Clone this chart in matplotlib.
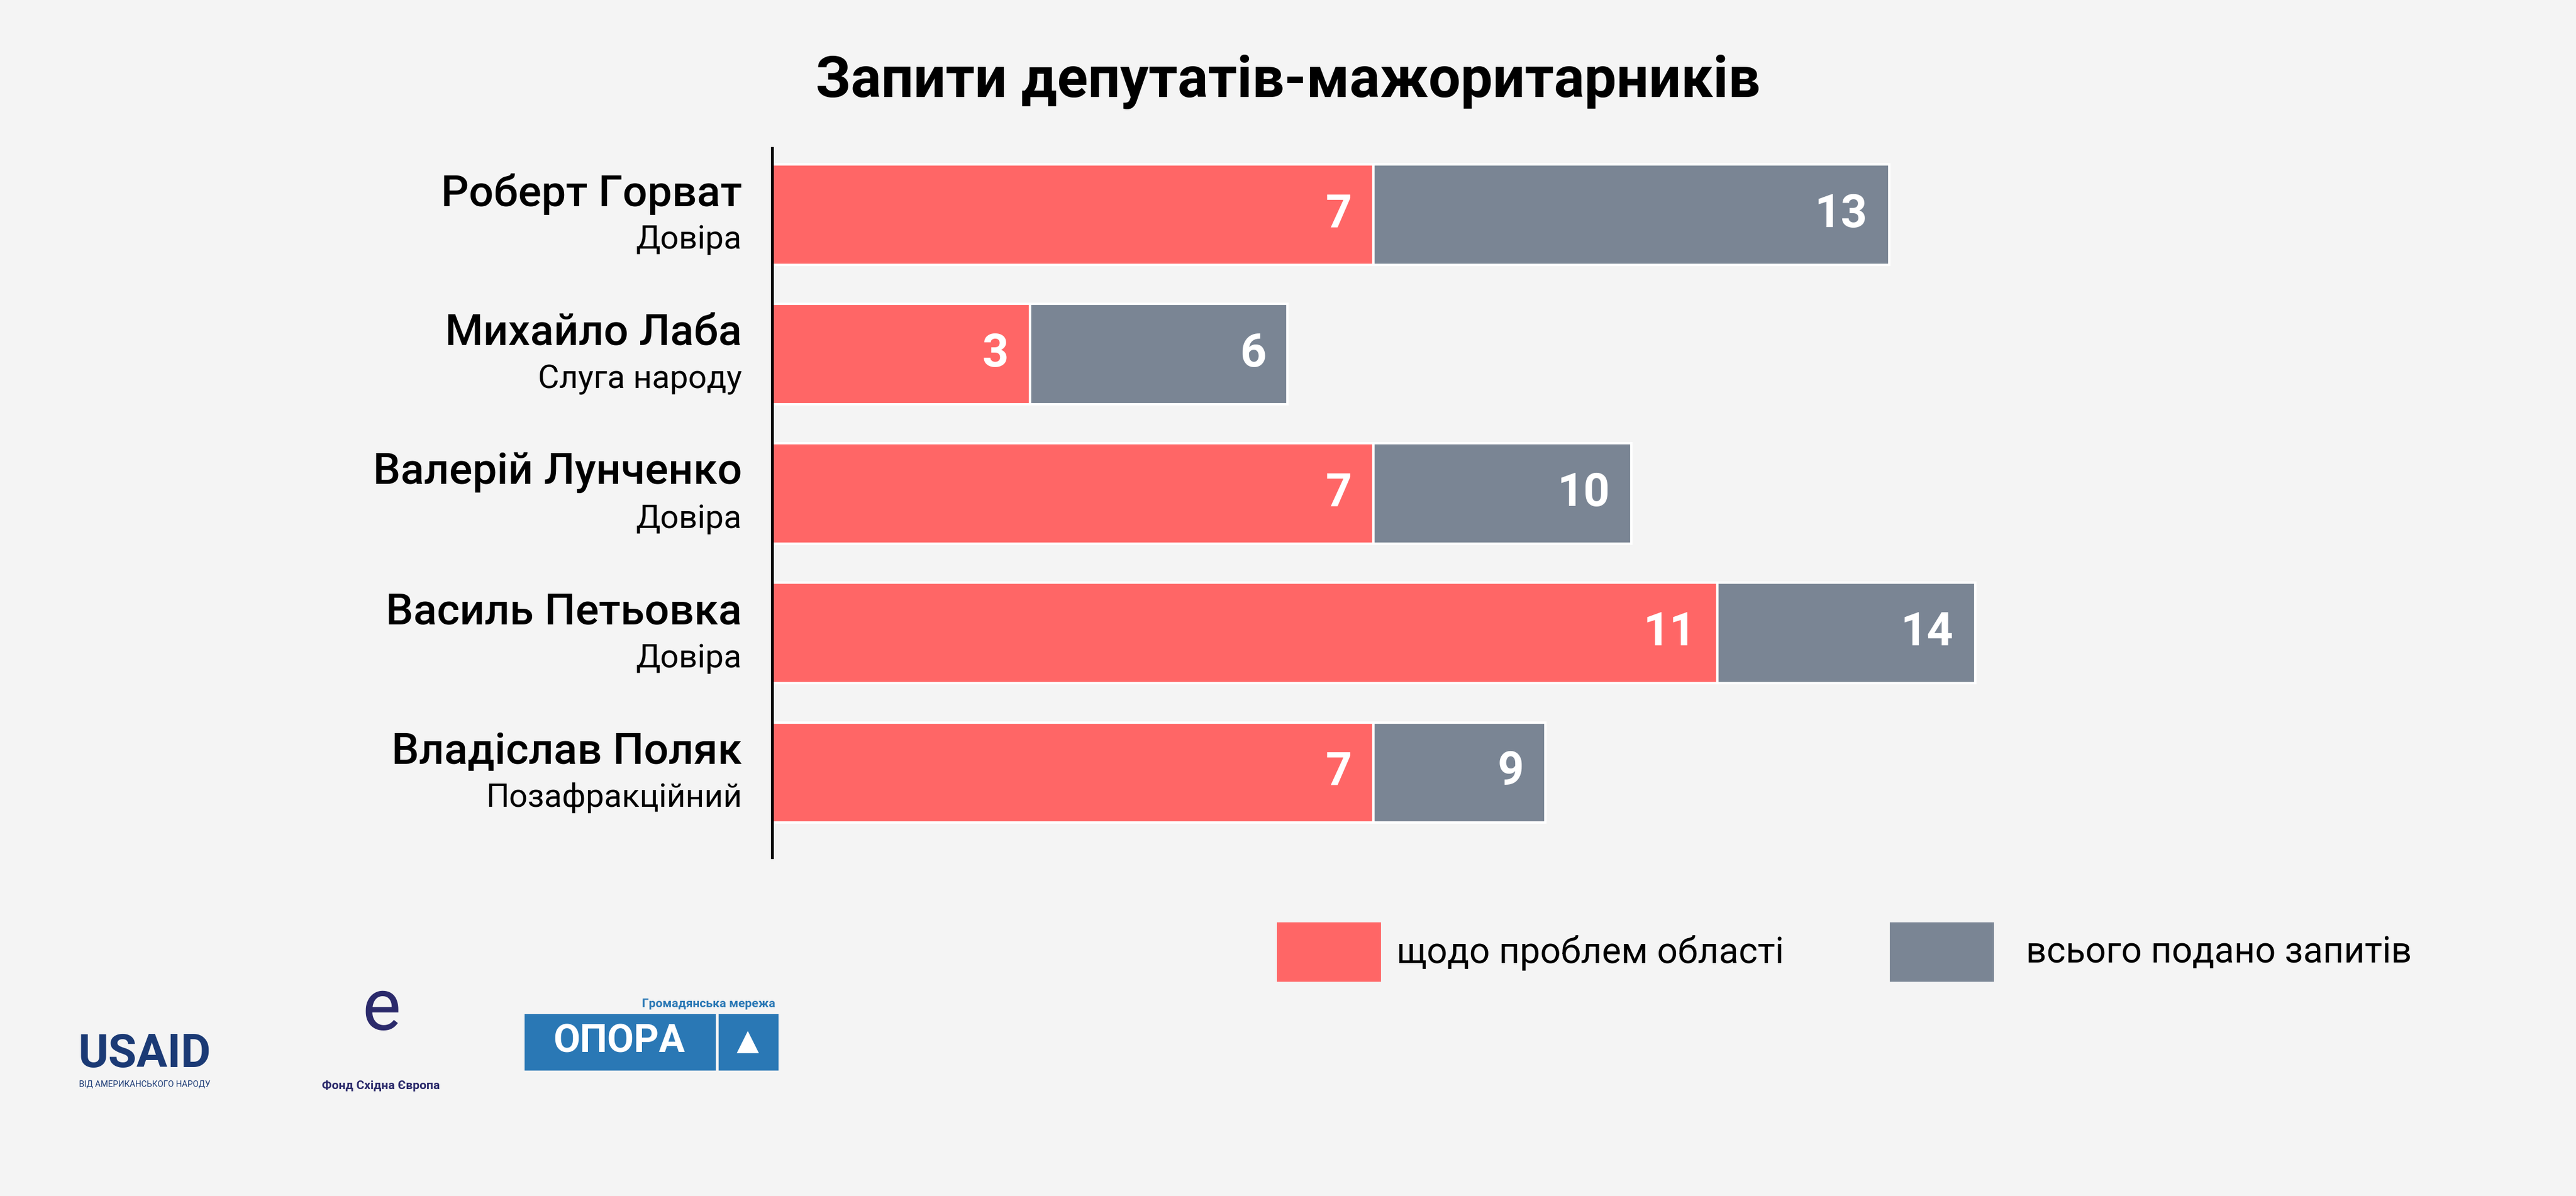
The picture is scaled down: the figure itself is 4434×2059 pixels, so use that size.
import matplotlib.pyplot as plt
from matplotlib.patches import Rectangle

plt.rcParams['font.family'] = ['Roboto', 'DejaVu Sans']

names = ["Роберт Горват", "Михайло Лаба", "Валерій Лунченко", "Василь Петьовка", "Владіслав Поляк"]
parties = ["Довіра", "Слуга народу", "Довіра", "Довіра", "Позафракційний"]
region = [7, 3, 7, 11, 7]
total = [13, 6, 10, 14, 9]

RED = "#ff6666"
GRAY = "#7a8594"
BG = "#f4f4f4"
W, H = 1568, 728  # reference display coords

fig = plt.figure(figsize=(4434/300, 2059/300), dpi=300, facecolor=BG)
ax = fig.add_axes([470/W, 1-522/H, 1046/W, 432/H])
ax.set_facecolor(BG)
ax.set_xlim(0, 20)
ax.set_ylim(4.61, -0.48)
for i in range(len(names)):
    ax.barh(i, region[i], height=0.72, color=RED, edgecolor="white", linewidth=1)
    ax.barh(i, total[i]-region[i], left=region[i], height=0.72, color=GRAY, edgecolor="white", linewidth=1)
    ax.text(region[i]-0.25, i, str(region[i]), ha="right", va="center", color="white", fontsize=19, fontweight="bold")
    ax.text(total[i]-0.25, i, str(total[i]), ha="right", va="center", color="white", fontsize=19, fontweight="bold")
    ax.text(-0.35, i-0.15, names[i], ha="right", va="center", fontsize=18, fontweight="medium", color="black")
    ax.text(-0.35, i+0.18, parties[i], ha="right", va="center", fontsize=13.5, color="black")
for s in ["top", "right", "bottom"]:
    ax.spines[s].set_visible(False)
ax.spines["left"].set_linewidth(1.2)
ax.set_xticks([])
ax.set_yticks([])

fig.text(784/W, 1-50/H, "Запити депутатів-мажоритарників", ha="center", va="center",
         fontsize=23.5, fontweight="bold", color="black")

# legend
fig.patches.append(Rectangle((778/W, 1-597/H), 62/W, 35/H, transform=fig.transFigure, color=RED))
fig.text(850/W, 1-580/H, "щодо проблем області", va="center", fontsize=15, color="black")
fig.patches.append(Rectangle((1151/W, 1-597/H), 62/W, 35/H, transform=fig.transFigure, color=GRAY))
fig.text(1233/W, 1-580/H, "всього подано запитів", va="center", fontsize=15, color="black")

# logos (text approximations)
fig.text(88/W, 1-642/H, "USAID", ha="center", va="center", fontsize=19, fontweight="bold", color="#1b3a75")
fig.text(88/W, 1-660/H, "ВІД АМЕРИКАНСЬКОГО НАРОДУ", ha="center", va="center", fontsize=3.5, color="#1b3a75")
fig.text(232/W, 1-615/H, "e", ha="center", va="center", fontsize=30, color="#2b2a6b")
fig.text(232/W, 1-661/H, "Фонд Східна Європа", ha="center", va="center", fontsize=5, fontweight="bold", color="#2b2a6b")
fig.text(472/W, 1-611/H, "Громадянська мережа", ha="right", va="center", fontsize=5, fontweight="bold", color="#2a78b5")
fig.patches.append(Rectangle((320/W, 1-651/H), 115/W, 33/H, transform=fig.transFigure, color="#2a78b5"))
fig.patches.append(Rectangle((438/W, 1-651/H), 35/W, 33/H, transform=fig.transFigure, color="#2a78b5"))
fig.text(377/W, 1-634/H, "ОПОРА", ha="center", va="center", fontsize=16, fontweight="bold", color="white")
fig.text(455/W, 1-634/H, "▲", ha="center", va="center", fontsize=12, color="white", family="DejaVu Sans")

fig.savefig("out.png", dpi=300, facecolor=BG)
